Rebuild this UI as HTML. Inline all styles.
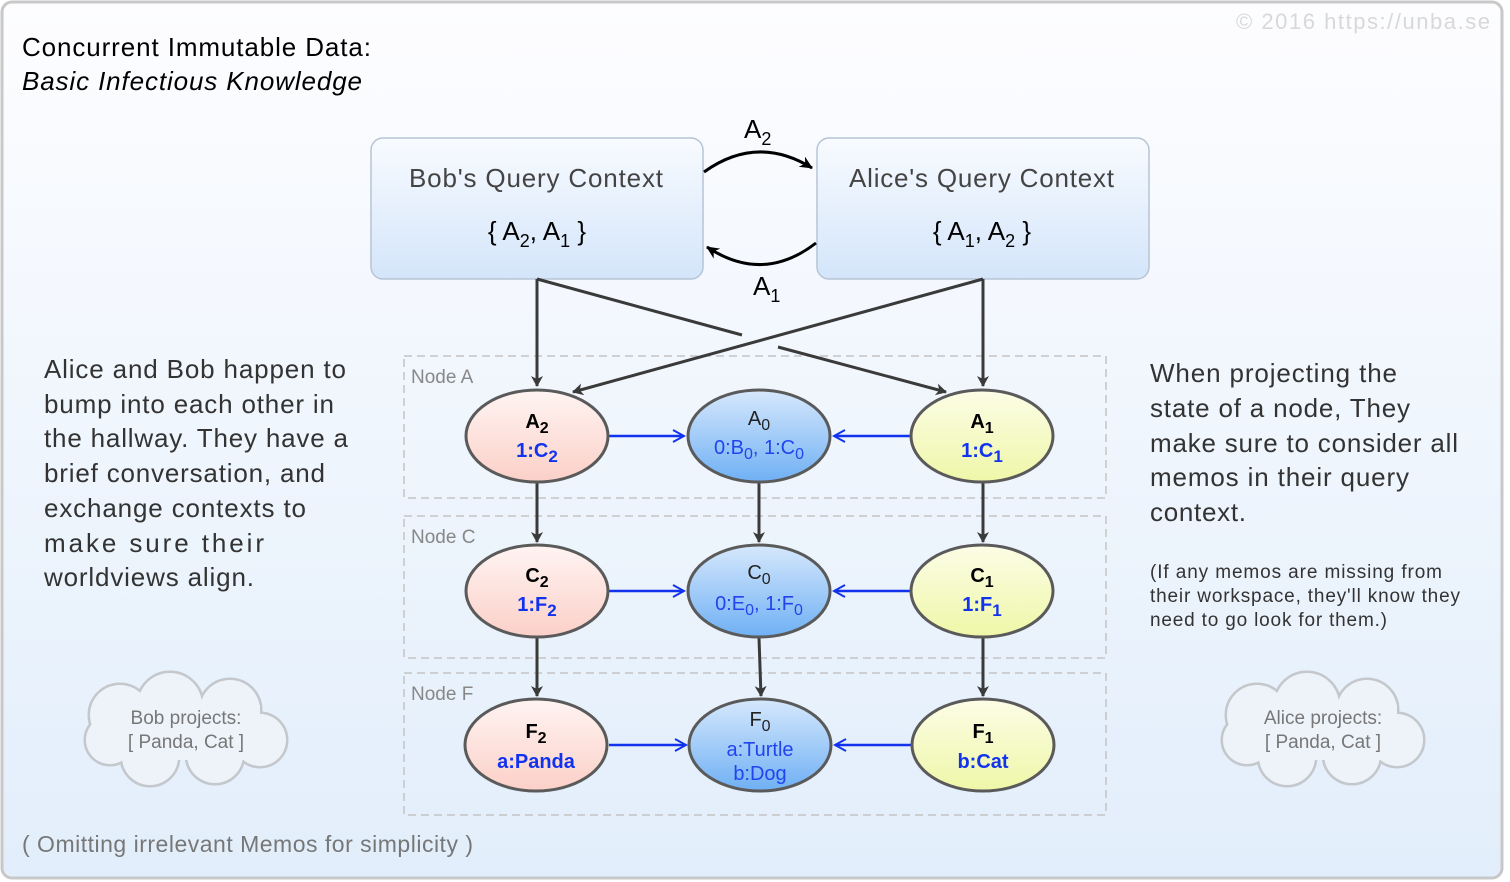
<!DOCTYPE html>
<html><head><style>body{margin:0}svg{display:block}text{font-family:"Liberation Sans",sans-serif}</style></head><body>
<svg width="1510" height="882" viewBox="0 0 1510 882" xmlns="http://www.w3.org/2000/svg">
<defs>
<linearGradient id="bg" x1="0" y1="0" x2="0" y2="1"><stop offset="0" stop-color="#fdfdff"/><stop offset="1" stop-color="#e2eefb"/></linearGradient>
<linearGradient id="ctx" x1="0" y1="0" x2="0" y2="1"><stop offset="0" stop-color="#f8fbff"/><stop offset="1" stop-color="#d4e5fa"/></linearGradient>
<linearGradient id="red" x1="0" y1="0" x2="0" y2="1"><stop offset="0" stop-color="#fff4f2"/><stop offset="1" stop-color="#fbd0c8"/></linearGradient>
<linearGradient id="blu" x1="0" y1="0" x2="0" y2="1"><stop offset="0" stop-color="#d6e8fc"/><stop offset="1" stop-color="#6fb0f4"/></linearGradient>
<linearGradient id="yel" x1="0" y1="0" x2="0" y2="1"><stop offset="0" stop-color="#fcfde6"/><stop offset="1" stop-color="#eef7a8"/></linearGradient>
<marker id="ak" markerWidth="12" markerHeight="12" refX="10" refY="6" orient="auto" markerUnits="userSpaceOnUse"><path d="M0,0 L11,6 L0,12 L3,6 Z" fill="#3a3a3a"/></marker>
<marker id="ab" markerWidth="14" markerHeight="14" refX="12" refY="7" orient="auto" markerUnits="userSpaceOnUse"><path d="M1,1 L12,7 L1,13" fill="none" stroke="#1133ee" stroke-width="2"/></marker>
<marker id="kb" markerWidth="14" markerHeight="14" refX="12" refY="7" orient="auto" markerUnits="userSpaceOnUse"><path d="M0,1 L13,7 L0,13 L4,7 Z" fill="#000"/></marker>
</defs>
<rect x="2" y="2" width="1500" height="876" rx="10" fill="url(#bg)" stroke="#c8c8c8" stroke-width="3"/>
<text x="1236" y="29" font-size="22" fill="#d8d8d8" textLength="254">© 2016  https://unba.se</text>
<text x="22" y="56" font-size="26" fill="#000" textLength="349">Concurrent Immutable Data:</text>
<text x="22" y="90" font-size="26" fill="#000" font-style="italic" textLength="340">Basic Infectious Knowledge</text>

<g fill="none" stroke="#c4c4c4" stroke-width="1.5" stroke-dasharray="8,5">
<rect x="404" y="356" width="702" height="142"/>
<rect x="404" y="516" width="702" height="142"/>
<rect x="404" y="673" width="702" height="142"/>
</g>
<g font-size="19" fill="#888"><text x="411" y="383">Node A</text><text x="411" y="543">Node C</text><text x="411" y="700">Node F</text></g>

<rect x="371" y="138" width="332" height="141" rx="12" fill="url(#ctx)" stroke="#b6c4d6" stroke-width="1.5"/>
<rect x="817" y="138" width="332" height="141" rx="12" fill="url(#ctx)" stroke="#b6c4d6" stroke-width="1.5"/>
<g font-size="26" fill="#444">
<text x="409" y="187" textLength="254">Bob's Query Context</text>
<text x="849" y="187" textLength="265">Alice's Query Context</text>
</g>
<g font-size="26" fill="#000" text-anchor="middle">
<text x="537" y="240">{ A<tspan font-size="18" dy="7">2</tspan><tspan dy="-7">, A</tspan><tspan font-size="18" dy="7">1</tspan><tspan dy="-7"> }</tspan></text>
<text x="982" y="240">{ A<tspan font-size="18" dy="7">1</tspan><tspan dy="-7">, A</tspan><tspan font-size="18" dy="7">2</tspan><tspan dy="-7"> }</tspan></text>
</g>
<path d="M704,172 Q757,134 812,168" fill="none" stroke="#000" stroke-width="3" marker-end="url(#kb)"/>
<path d="M816,243 Q763,284 707,247" fill="none" stroke="#000" stroke-width="3" marker-end="url(#kb)"/>
<text x="744" y="138" font-size="26">A<tspan font-size="18" dy="7">2</tspan></text>
<text x="753" y="295" font-size="26">A<tspan font-size="18" dy="7">1</tspan></text>

<g stroke="#3a3a3a" stroke-width="3" fill="none">
<path d="M537,279 L537,386" marker-end="url(#ak)"/>
<path d="M537,279 L742,335"/>
<path d="M778,347 L946,392" marker-end="url(#ak)"/>
<path d="M983,279 L983,386" marker-end="url(#ak)"/>
<path d="M983,279 L573,392" marker-end="url(#ak)"/>
<path d="M537,483 L537,542" marker-end="url(#ak)"/>
<path d="M759,483 L759,542" marker-end="url(#ak)"/>
<path d="M983,483 L983,542" marker-end="url(#ak)"/>
<path d="M537,638 L537,696" marker-end="url(#ak)"/>
<path d="M759,638 L761,696" marker-end="url(#ak)"/>
<path d="M983,638 L983,696" marker-end="url(#ak)"/>
</g>
<g stroke="#1133ee" stroke-width="2.5" fill="none">
<path d="M609,436 L684,436" marker-end="url(#ab)"/>
<path d="M911,436 L834,436" marker-end="url(#ab)"/>
<path d="M609,591 L684,591" marker-end="url(#ab)"/>
<path d="M911,591 L834,591" marker-end="url(#ab)"/>
<path d="M609,745 L686,745" marker-end="url(#ab)"/>
<path d="M912,745 L835,745" marker-end="url(#ab)"/>
</g>
<g stroke="#5a5a5a" stroke-width="3">
<ellipse cx="537" cy="436" rx="71" ry="46" fill="url(#red)"/>
<ellipse cx="759" cy="436" rx="71" ry="46" fill="url(#blu)"/>
<ellipse cx="982" cy="436" rx="71" ry="46" fill="url(#yel)"/>
<ellipse cx="537" cy="591" rx="71" ry="46" fill="url(#red)"/>
<ellipse cx="759" cy="591" rx="71" ry="46" fill="url(#blu)"/>
<ellipse cx="982" cy="591" rx="71" ry="46" fill="url(#yel)"/>
<ellipse cx="536" cy="745" rx="71" ry="46" fill="url(#red)"/>
<ellipse cx="760" cy="745" rx="71" ry="46" fill="url(#blu)"/>
<ellipse cx="983" cy="745" rx="71" ry="46" fill="url(#yel)"/>
</g>
<g text-anchor="middle" font-size="20">
<text x="537" y="428" font-weight="bold">A<tspan font-size="16" dy="5">2</tspan></text>
<text x="537" y="457" font-weight="bold" fill="#1133ee">1:C<tspan font-size="17" dy="5">2</tspan></text>
<text x="759" y="425" fill="#222">A<tspan font-size="16" dy="5">0</tspan></text>
<text x="759" y="454" fill="#2244ee">0:B<tspan font-size="16" dy="5">0</tspan><tspan dy="-5">, 1:C</tspan><tspan font-size="16" dy="5">0</tspan></text>
<text x="982" y="428" font-weight="bold">A<tspan font-size="16" dy="5">1</tspan></text>
<text x="982" y="457" font-weight="bold" fill="#1133ee">1:C<tspan font-size="17" dy="5">1</tspan></text>
<text x="537" y="582" font-weight="bold">C<tspan font-size="16" dy="5">2</tspan></text>
<text x="537" y="611" font-weight="bold" fill="#1133ee">1:F<tspan font-size="17" dy="5">2</tspan></text>
<text x="759" y="579" fill="#222">C<tspan font-size="16" dy="5">0</tspan></text>
<text x="759" y="610" fill="#2244ee">0:E<tspan font-size="16" dy="5">0</tspan><tspan dy="-5">, 1:F</tspan><tspan font-size="16" dy="5">0</tspan></text>
<text x="982" y="582" font-weight="bold">C<tspan font-size="16" dy="5">1</tspan></text>
<text x="982" y="611" font-weight="bold" fill="#1133ee">1:F<tspan font-size="17" dy="5">1</tspan></text>
<text x="536" y="738" font-weight="bold">F<tspan font-size="16" dy="5">2</tspan></text>
<text x="536" y="768" font-weight="bold" fill="#1133ee">a:Panda</text>
<text x="760" y="726" fill="#222">F<tspan font-size="16" dy="5">0</tspan></text>
<text x="760" y="756" fill="#2244ee">a:Turtle</text>
<text x="760" y="780" fill="#2244ee">b:Dog</text>
<text x="983" y="738" font-weight="bold">F<tspan font-size="16" dy="5">1</tspan></text>
<text x="983" y="768" font-weight="bold" fill="#1133ee">b:Cat</text>
</g>

<g font-size="26" fill="#333">
<text x="44" y="378" textLength="302">Alice and Bob happen to</text>
<text x="44" y="413" textLength="290">bump into each other in</text>
<text x="44" y="447" textLength="304">the hallway. They have a</text>
<text x="44" y="482" textLength="281">brief conversation, and</text>
<text x="44" y="517" textLength="262">exchange contexts to</text>
<text x="44" y="552" textLength="220">make sure their</text>
<text x="44" y="586" textLength="210">worldviews align.</text>
<text x="1150" y="382" textLength="247">When projecting the</text>
<text x="1150" y="417" textLength="260">state of a node, They</text>
<text x="1150" y="452" textLength="308">make sure to consider all</text>
<text x="1150" y="486" textLength="259">memos in their query</text>
<text x="1150" y="521" textLength="96">context.</text>
</g>
<g font-size="19" fill="#333">
<text x="1150" y="578" textLength="292">(If any memos are missing from</text>
<text x="1150" y="602" textLength="310">their workspace, they'll know they</text>
<text x="1150" y="626" textLength="237">need to go look for them.)</text>
</g>
<text x="22" y="852" font-size="23" fill="#777" textLength="451">( Omitting irrelevant Memos for simplicity )</text>

<g id="cloud">
<g fill="none" stroke="#c4c8cc" stroke-width="5">
<circle cx="120" cy="715" r="30"/><circle cx="170" cy="705" r="32"/><circle cx="230" cy="710" r="30"/><circle cx="260" cy="740" r="26"/><circle cx="215" cy="755" r="28"/><circle cx="150" cy="757" r="28"/><circle cx="110" cy="740" r="24"/>
</g>
<g fill="#eef3fa">
<circle cx="120" cy="715" r="30"/><circle cx="170" cy="705" r="32"/><circle cx="230" cy="710" r="30"/><circle cx="260" cy="740" r="26"/><circle cx="215" cy="755" r="28"/><circle cx="150" cy="757" r="28"/><circle cx="110" cy="740" r="24"/><rect x="110" y="705" width="150" height="55"/>
</g>
</g>
<use href="#cloud" x="1137" y="0"/>
<g font-size="19" fill="#777" text-anchor="middle">
<text x="186" y="724">Bob projects:</text><text x="186" y="748">[ Panda, Cat ]</text>
<text x="1323" y="724">Alice projects:</text><text x="1323" y="748">[ Panda, Cat ]</text>
</g>
</svg>
</body></html>
